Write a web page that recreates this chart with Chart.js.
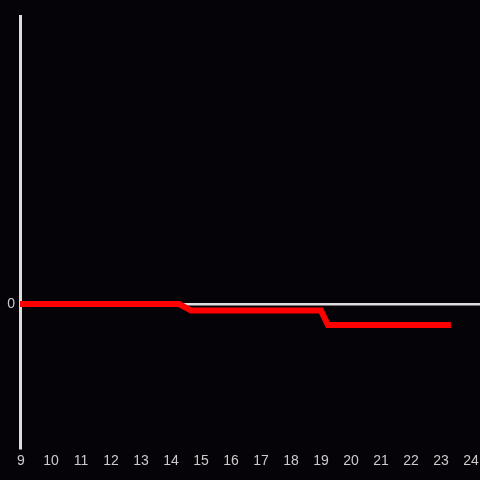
<!DOCTYPE html>
<html>
<head>
<meta charset="utf-8">
<script src="https://cdn.jsdelivr.net/npm/chart.js@4/dist/chart.umd.min.js"></script>
<style>
  html, body { margin: 0; padding: 0; background: #050307; }
  #wrap { width: 480px; height: 480px; }
</style>
</head>
<body>
<div id="wrap"><canvas id="stepChart"></canvas></div>
<script>
// 数据
const xValues = [8.8, 14.27, 14.67, 19.0, 19.23, 23.33];
const yValues = [0, 0, -2.3, -2.3, -7.3, -7.3];
const xTicks = [9, 10, 11, 12, 13, 14, 15, 16, 17, 18, 19, 20, 21, 22, 23, 24];
const yTicks = [0];

document.addEventListener('DOMContentLoaded', function() {
    const ctx = document.getElementById('stepChart').getContext('2d');
    const points = xValues.map((x, i) => ({ x: x, y: yValues[i] }));

    new Chart(ctx, {
        type: 'line',
        data: {
            datasets: [{
                data: points,
                borderColor: '#ff0000',
                borderWidth: 6,
                pointRadius: 0,
                tension: 0,
                fill: false
            }]
        },
        options: {
            responsive: true,
            maintainAspectRatio: false,
            animation: false,
            layout: { padding: { top: 16, right: 0, left: 0, bottom: 0 } },
            plugins: {
                legend: { display: false },
                tooltip: { enabled: false }
            },
            scales: {
                x: {
                    type: 'linear',
                    min: 8.967,
                    max: 24.3,
                    afterBuildTicks: function(scale) {
                        scale.ticks = xTicks.map(v => ({ value: v }));
                    },
                    afterFit: function(scale) {
                        scale.height = 32;
                        scale.paddingLeft = 0;
                        scale.paddingRight = 0;
                    },
                    grid: { display: false, drawTicks: false },
                    border: { display: false },
                    ticks: {
                        color: '#cccccc',
                        font: { family: 'Liberation Sans', size: 14 },
                        padding: 5,
                        maxRotation: 0,
                        autoSkip: false
                    }
                },
                y: {
                    min: -50,
                    max: 100,
                    afterBuildTicks: function(scale) {
                        scale.ticks = yTicks.map(v => ({ value: v }));
                    },
                    afterFit: function(scale) { scale.width = 20; },
                    grid: {
                        drawTicks: false,
                        color: c => c.tick && c.tick.value === 0 ? '#dddddd' : 'transparent',
                        lineWidth: 2.5
                    },
                    border: { display: true, color: '#dddddd', width: 3 },
                    ticks: {
                        color: '#cccccc',
                        font: { family: 'Liberation Sans', size: 14 },
                        padding: 5
                    }
                }
            }
        }
    });
});
</script>
</body>
</html>
